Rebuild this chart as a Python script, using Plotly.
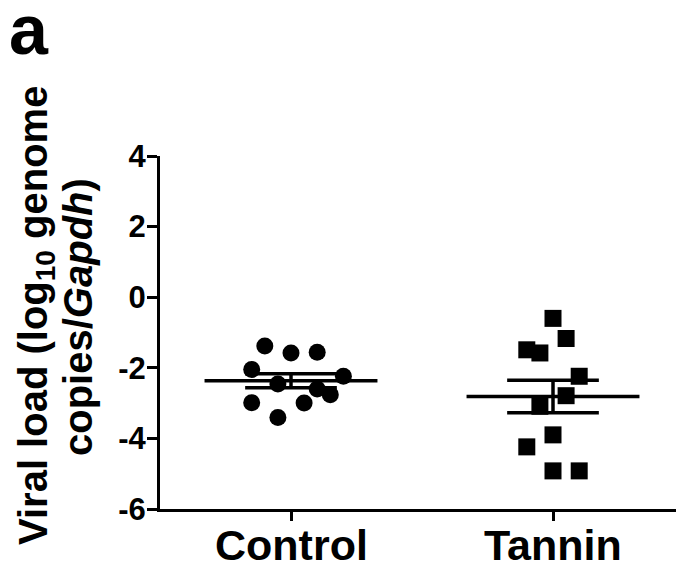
import numpy as np
import plotly.graph_objects as go

# ---- data ----
groups = ["Control", "Tannin"]
group_pos = [1, 2]
control_values = [-1.38, -1.58, -1.56, -2.05, -2.24, -2.46, -2.60, -2.76, -2.99, -3.00, -3.41]
control_slots = [-2, 0, 2, -3, 4, -1, 2, 3, -3, 1, -1]
tannin_values = [-0.60, -1.17, -1.49, -1.58, -2.24, -2.79, -3.09, -3.90, -4.24, -4.92, -4.92]
tannin_slots = [0, 1, -2, -1, 2, 1, -1, 0, -2, 0, 2]
y_ticks = [-6, -4, -2, 0, 2, 4]
y_ticktext = ["-6", "-4", "-2", "0", "2", "4"]

FONT = "Liberation Sans, Arial, sans-serif"
SLOT = 0.05
MEAN_HALF = 0.33
CAP_HALF = 0.175

fig = go.Figure()

series = [
    (control_values, control_slots, "circle"),
    (tannin_values, tannin_slots, "square"),
]

for pos, (vals, slots, sym) in zip(group_pos, series):
    v = np.array(vals)
    m = v.mean()
    sem = v.std(ddof=1) / np.sqrt(len(v))
    fig.add_trace(go.Scatter(
        x=[pos + s * SLOT for s in slots], y=vals, mode="markers",
        marker=dict(symbol=sym, size=17, color="black", line=dict(width=0)),
        showlegend=False, hoverinfo="y"))
    # mean line
    fig.add_trace(go.Scatter(
        x=[pos - MEAN_HALF, pos + MEAN_HALF], y=[m, m], mode="lines",
        line=dict(color="black", width=3.5), showlegend=False, hoverinfo="skip"))
    # SEM bars
    fig.add_trace(go.Scatter(
        x=[pos - CAP_HALF, pos + CAP_HALF, None, pos - CAP_HALF, pos + CAP_HALF, None, pos, pos],
        y=[m + sem, m + sem, None, m - sem, m - sem, None, m - sem, m + sem],
        mode="lines", line=dict(color="black", width=3.5),
        showlegend=False, hoverinfo="skip"))

# the page body has an 8px margin, so the figure is 8px smaller than the window
fig.update_layout(
    width=676, height=561,
    margin=dict(l=152, r=0, t=148, b=60),
    paper_bgcolor="white", plot_bgcolor="white",
    font=dict(family=FONT, color="black"),
    xaxis=dict(
        range=[0.5, 2.5], tickvals=group_pos, ticktext=groups,
        showticklabels=False, automargin=False,
        showline=True, linecolor="black", linewidth=3,
        ticks="outside", ticklen=9, tickwidth=3, tickcolor="black",
        showgrid=False, zeroline=False,
    ),
    yaxis=dict(
        range=[-6, 4], tickvals=y_ticks, ticktext=y_ticktext, automargin=False,
        showline=True, linecolor="black", linewidth=3,
        ticks="outside", ticklen=10, tickwidth=3, tickcolor="black",
        ticklabelstandoff=-5,
        showgrid=False, zeroline=False,
        tickfont=dict(family=FONT, size=31, color="black", weight="bold"),
    ),
)

# page-pixel -> paper coordinates (plot area spans x 160..684, y 156..509 on the page)
def px_to_paper_x(px):
    return (px - 160) / 524.0

def px_to_paper_y(py):
    return (509 - py) / 353.0

# category labels under the x axis
for pos, name in zip(group_pos, groups):
    fig.add_annotation(
        text=name, xref="x", yref="paper", x=pos, y=px_to_paper_y(545),
        xanchor="center", yanchor="middle", showarrow=False,
        font=dict(family=FONT, size=43, color="black", weight="bold"))

fig.add_annotation(
    text="Viral load (log<sub>10</sub> genome", textangle=-90,
    xref="paper", yref="paper", x=px_to_paper_x(36), y=px_to_paper_y(316),
    xanchor="center", yanchor="middle", showarrow=False,
    font=dict(family=FONT, size=40, color="black", weight="bold"))
fig.add_annotation(
    text="copies/<i>Gapdh</i>)", textangle=-90,
    xref="paper", yref="paper", x=px_to_paper_x(78), y=px_to_paper_y(317),
    xanchor="center", yanchor="middle", showarrow=False,
    font=dict(family=FONT, size=40, color="black", weight="bold"))
fig.add_annotation(
    text="a", xref="paper", yref="paper",
    x=px_to_paper_x(29), y=px_to_paper_y(30),
    xanchor="center", yanchor="middle", showarrow=False,
    font=dict(family=FONT, size=70, color="black", weight="bold"))

fig.write_html("out.html")
